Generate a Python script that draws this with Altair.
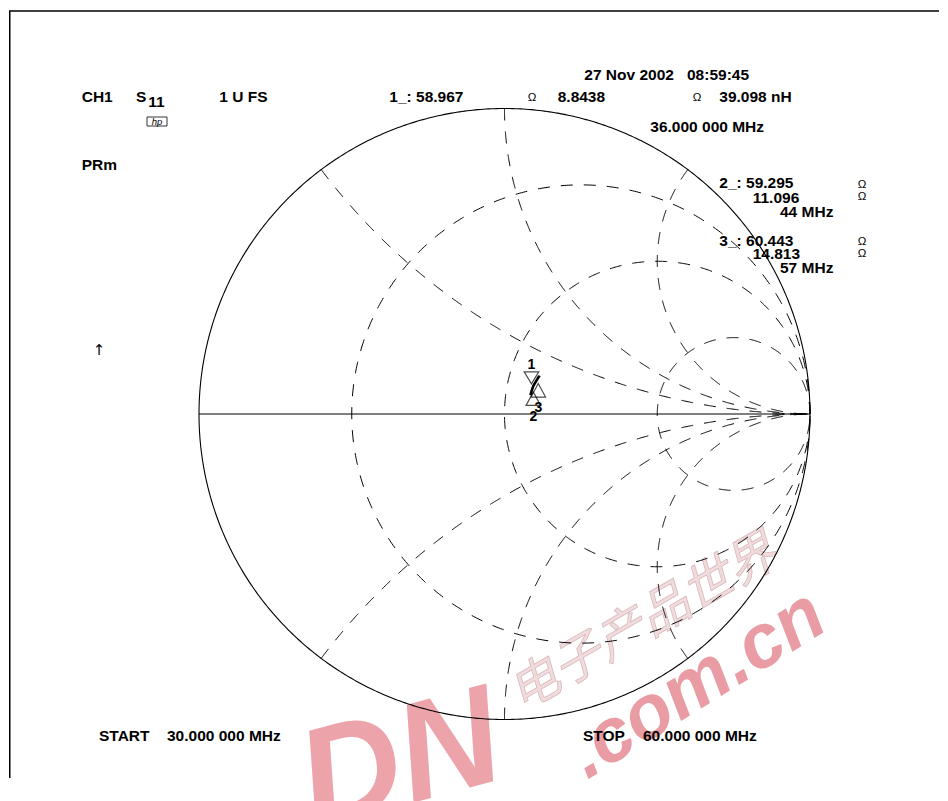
import numpy as np
import pandas as pd
import altair as alt

# ---------------- data ----------------
Z0 = 50.0
grid_r = [1 / 3, 1.0, 3.0]          # constant-resistance circles
grid_x = [0.5, 1.0, 2.0]            # constant-reactance arcs (+/-)

freq_mhz = [30, 36, 44, 57, 60]     # trace (estimated between markers)
trace_r = [58.8, 58.967, 59.295, 60.443, 60.8]
trace_x = [7.3, 8.8438, 11.096, 14.813, 15.7]

marker_id = ["1", "2", "3"]
marker_freq = [36, 44, 57]
marker_r = [58.967, 59.295, 60.443]
marker_x = [8.8438, 11.096, 14.813]

# ---------------- layout ----------------
W, H = 930, 770
PX = 305.5
CX, CY = 503.5, 414.0   # page position of chart centre
u0 = -(CX - 8) / PX
u1 = u0 + W / PX
v1 = (CY - 8) / PX
v0 = v1 - H / PX
FONT = "Liberation Sans"

xs = alt.Scale(domain=[u0, u1], nice=False, zero=False)
ys = alt.Scale(domain=[v0, v1], nice=False, zero=False)


def gamma(r, x):
    z = (np.asarray(r) + 1j * np.asarray(x)) / Z0
    g = (z - 1) / (z + 1)
    return g.real, g.imag


# ---------------- grid geometry ----------------
solid_rows, dash_rows = [], []


def add(rows, name, us, vs):
    for i, (a, b) in enumerate(zip(us, vs)):
        rows.append({"name": name, "i": i, "u": float(a), "v": float(b)})


t = np.linspace(0, 2 * np.pi, 721)
add(solid_rows, "unit", np.cos(t), np.sin(t))
add(solid_rows, "axis", [-1, 1], [0, 0])

for r in grid_r:
    c, rad = r / (1 + r), 1 / (1 + r)
    add(dash_rows, f"r{r}", c + rad * np.cos(t), rad * np.sin(t))

for x in grid_x:
    rad = 1 / x
    pu, pv = (x * x - 1) / (x * x + 1), 2 * x / (x * x + 1)
    th0 = np.arctan2(pv - 1 / x, pu - 1) % (2 * np.pi)
    th = np.linspace(th0, 1.5 * np.pi, 500)
    uu = 1 + rad * np.cos(th)
    vv = 1 / x + rad * np.sin(th)
    add(dash_rows, f"x+{x}", uu, vv)
    add(dash_rows, f"x-{x}", uu, -vv)

solid_df = pd.DataFrame(solid_rows)
dash_df = pd.DataFrame(dash_rows)

tu, tv = gamma(trace_r, trace_x)
trace_df = pd.DataFrame({"f": freq_mhz, "u": tu, "v": tv})
mu, mv = gamma(marker_r, marker_x)
mk_df = pd.DataFrame({"id": marker_id, "f": marker_freq, "u": mu, "v": mv})

enc = dict(x=alt.X("u:Q", scale=xs, axis=None), y=alt.Y("v:Q", scale=ys, axis=None))

solid = alt.Chart(solid_df).mark_line(color="black", strokeWidth=1.1).encode(
    order="i:Q", detail="name:N", **enc)
dashed = alt.Chart(dash_df).mark_line(color="black", strokeWidth=1, strokeDash=[12, 11]).encode(
    order="i:Q", detail="name:N", **enc)
trace = alt.Chart(trace_df).mark_line(color="black", strokeWidth=2.6).encode(order="f:Q", **enc)

PATH_DOWN = "M -1.04 -2.79 L 1.04 -2.79 L 0 -1.07 Z"
PATH_UP = "M 0 0.86 L 1.04 2.79 L -1.04 2.79 Z"
m1 = alt.Chart(mk_df[mk_df.id == "1"]).mark_point(
    shape=PATH_DOWN, size=196, filled=False, color="black", strokeWidth=1.2).encode(**enc)
m23 = alt.Chart(mk_df[mk_df.id != "1"]).mark_point(
    shape=PATH_UP, size=196, filled=False, color="black", strokeWidth=1.2).encode(**enc)
l1 = alt.Chart(mk_df[mk_df.id == "1"]).mark_text(
    dy=-26, font=FONT, fontSize=14, fontWeight="bold", baseline="middle").encode(text="id:N", **enc)
l3 = alt.Chart(mk_df[mk_df.id == "3"]).mark_text(
    dy=30, font=FONT, fontSize=14, fontWeight="bold", baseline="middle").encode(text="id:N", **enc)
l2 = alt.Chart(mk_df[mk_df.id == "2"]).mark_text(
    dy=31, font=FONT, fontSize=14, fontWeight="bold", baseline="middle").encode(text="id:N", **enc)


def txt(s, x, y, size=15.5, bold=True, align="left", font=FONT, style="normal",
        color="black", angle=0, **kw):
    return alt.Chart(pd.DataFrame({"s": [s]})).mark_text(
        align=align, baseline="alphabetic", font=font, fontSize=size,
        fontWeight="bold" if bold else "normal", fontStyle=style, color=color,
        angle=angle, **kw
    ).encode(x=alt.value(x - 8), y=alt.value(y - 8), text="s:N")


def omega(x, y):
    return txt("Ω", x, y, size=11.5, bold=False)


texts = [
    txt("CH1", 80.7, 101.7),
    txt("S", 135, 101.7),
    txt("11", 147.3, 106.5),
    txt("1 U FS", 218.3, 101.7),
    txt("PRm", 80.7, 170),
    txt("↑", 98, 355, size=15, bold=False, align="center", font="DejaVu Sans"),
    txt("27 Nov 2002", 583.3, 80),
    txt("08:59:45", 686, 80),
    txt("1_: 58.967", 388.3, 101.7),
    omega(526.7, 100.5),
    txt("8.8438", 556.7, 101.7),
    omega(691.7, 100.5),
    txt("39.098 nH", 718.3, 101.7),
    txt("36.000 000 MHz", 649.3, 131.7),
    txt("2_: 59.295", 718.3, 188.3),
    omega(856.7, 187.5),
    txt("11.096", 751.7, 202.7),
    omega(856.7, 199.5),
    txt("44 MHz", 779, 217.3),
    txt("3_: 60.443", 718.3, 245.5),
    omega(856.7, 245),
    txt("14.813", 751.7, 259),
    omega(856.7, 257),
    txt("57 MHz", 779, 273.3),
    txt("START", 98, 741),
    txt("30.000 000 MHz", 166, 741),
    txt("STOP", 582, 741),
    txt("60.000 000 MHz", 642, 741),
    txt("hp", 156, 124.5, size=9.5, bold=False, align="center", style="italic"),
]

# site watermark that overlays the scanned plot
PINK = "#eca4aa"
watermark = [
    txt("DN", 508, 777, size=140, align="right", style="italic", color=PINK, angle=345),
    txt(".com.cn", 586, 780, size=76, style="italic", color="#e99ca3", angle=328),
    txt("电子产品世界", 520, 712, size=50, bold=False, font="Noto Sans CJK SC",
        style="italic", color="#f1dcdd", angle=330, stroke="#d9b8bb", strokeWidth=0.8),
]

one = pd.DataFrame({"k": [0]})
hp_box = alt.Chart(one).mark_rect(fill=None, stroke="black", strokeWidth=0.8).encode(
    x=alt.value(146 - 8), x2=alt.value(166 - 8), y=alt.value(117 - 8), y2=alt.value(126 - 8))
frame_top = alt.Chart(one).mark_rule(color="black", strokeWidth=1.5).encode(
    x=alt.value(0), x2=alt.value(W), y=alt.value(11 - 8))
frame_left = alt.Chart(one).mark_rule(color="black", strokeWidth=1.5).encode(
    x=alt.value(0.75), y=alt.value(11 - 8), y2=alt.value(H))

chart = alt.layer(
    *watermark, frame_top, frame_left, dashed, solid, trace, m1, m23, l1, l2, l3, hp_box, *texts
).properties(width=W, height=H, padding=0).configure_view(stroke=None)

chart.save("out.html", embed_options={"renderer": "svg", "actions": False})
